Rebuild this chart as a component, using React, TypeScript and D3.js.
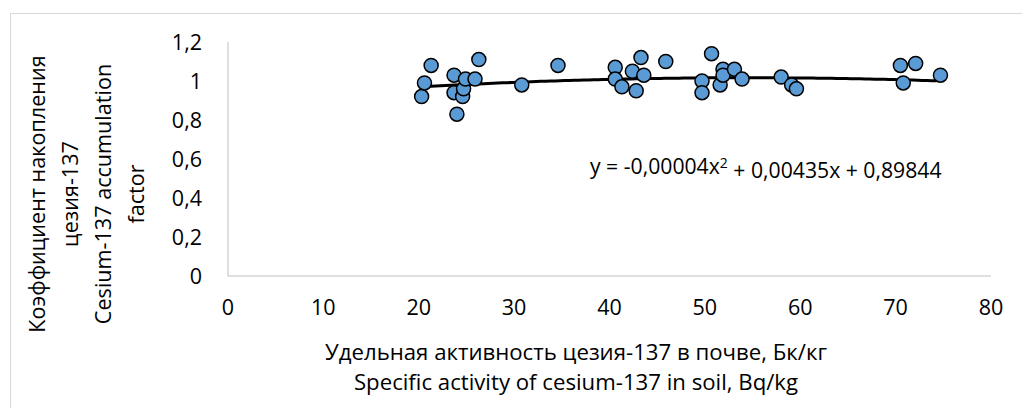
import React from 'react';
import * as d3 from 'd3';

// soil activity, Bq/kg
const activity = [
  20.3, 20.6, 21.3, 23.7, 23.7, 24.0, 24.6, 24.7, 24.9, 25.9, 26.3, 30.8, 34.6,
  40.6, 40.6, 41.3, 42.4, 42.8, 43.3, 43.6, 45.9, 49.7, 49.7, 50.7, 51.6, 51.9,
  51.9, 53.1, 53.9, 58.0, 59.1, 59.6, 70.5, 70.8, 72.1, 74.7,
];
// accumulation factor
const factor = [
  0.92, 0.99, 1.08, 1.03, 0.94, 0.83, 0.92, 0.96, 1.01, 1.01, 1.11, 0.98, 1.08,
  1.07, 1.01, 0.97, 1.05, 0.95, 1.12, 1.03, 1.1, 1.0, 0.94, 1.14, 0.98, 1.06,
  1.03, 1.06, 1.01, 1.02, 0.98, 0.96, 1.08, 0.99, 1.09, 1.03,
];
const xTicks = [0, 10, 20, 30, 40, 50, 60, 70, 80];
const yTicks = [0, 0.2, 0.4, 0.6, 0.8, 1, 1.2];
const trend = [-0.00004, 0.00435, 0.89844];

const yTitle = ['Коэффициент накопления', 'цезия-137', 'Cesium-137 accumulation', 'factor'];
const xTitle = ['Удельная активность цезия-137 в почве, Бк/кг', 'Specific activity of cesium-137 in soil, Bq/kg'];

const W = 1022, H = 408;
const font = '"Open Sans", sans-serif';

export default function App() {
  const x = d3.scaleLinear().domain([0, 80]).range([228, 991]);
  const y = d3.scaleLinear().domain([0, 1.2]).range([276, 42]);
  const fmt = (v: number) => d3.format('.1~f')(v).replace('.', ',');

  const lo = d3.min(activity) as number, hi = d3.max(activity) as number;
  const curve = d3.range(lo, hi + 0.01, 0.5).map((v) => [v, trend[0] * v * v + trend[1] * v + trend[2]]);
  const line = d3.line<number[]>().x((d) => x(d[0])).y((d) => y(d[1]));

  return (
    <div style={{ position: 'absolute', left: 0, top: 0 }}>
      <svg width={W} height={H} style={{ display: 'block', fontFamily: font }}>
        <rect x={0} y={0} width={W} height={H} fill="#fff" />
        <rect x={10.5} y={13.5} width={1030} height={420} fill="none" stroke="#d9d9d9" />

        {/* axes */}
        <line x1={x(0)} x2={x(0)} y1={y(1.2)} y2={y(0)} stroke="#bfbfbf" />
        <line x1={x(0)} x2={x(80)} y1={y(0)} y2={y(0)} stroke="#bfbfbf" />

        {yTicks.map((t) => (
          <text key={t} x={202} y={y(t)} dy="0.35em" textAnchor="end" fontSize={21.5} fill="#000">
            {fmt(t)}
          </text>
        ))}
        {xTicks.map((t) => (
          <text key={t} x={x(t)} y={307} dy="0.35em" textAnchor="middle" fontSize={21.5} fill="#000">
            {t}
          </text>
        ))}

        <path d={line(curve) ?? ''} fill="none" stroke="#000" strokeWidth={3} />

        {activity.map((a, i) => (
          <circle key={i} cx={x(a)} cy={y(factor[i])} r={7} fill="#5b9bd5" stroke="#000" strokeWidth={1.5} />
        ))}

        <text x={590} y={167} dy="0.35em" fontSize={21.2} fill="#000">
          y = -0,00004x<tspan dy="-0.45em" fontSize={14}>2</tspan>
          <tspan dy="0.45em"> + 0,00435x + 0,89844</tspan>
        </text>

        {yTitle.map((s, i) => (
          <text key={i} transform={`translate(${37 + i * 33},${194}) rotate(-90)`} textAnchor="middle" dy="0.35em" fontSize={21.6} fill="#000">
            {s}
          </text>
        ))}
        {xTitle.map((s, i) => (
          <text key={i} x={576} y={352 + i * 30} dy="0.35em" textAnchor="middle" fontSize={22.2} fill="#000">
            {s}
          </text>
        ))}
      </svg>
    </div>
  );
}
